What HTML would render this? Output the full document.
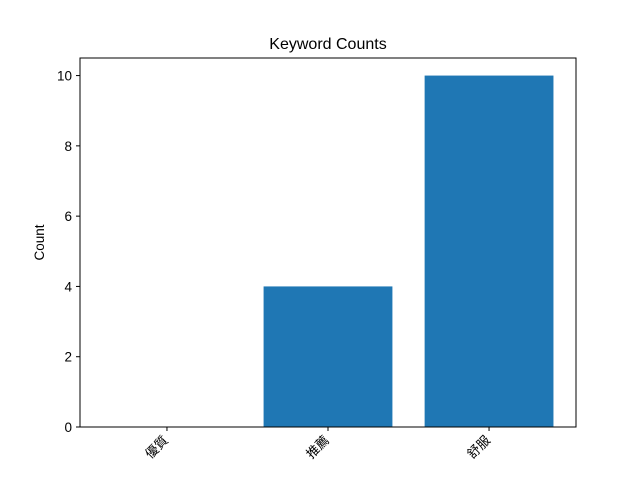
<!DOCTYPE html>
<html><head><meta charset="utf-8"><style>
body{margin:0;background:#fff}
svg{display:block;font-family:"Liberation Sans","Noto Sans CJK TC",sans-serif}
</style></head><body>
<svg id="chart" width="640" height="480">
<rect width="640" height="480" fill="#fff"/>
<text x="328" y="49" text-anchor="middle" font-size="16" fill="#000">Keyword Counts</text>
<text transform="translate(44,242.5) rotate(-90)" text-anchor="middle" font-size="13.5" fill="#000">Count</text>
<g id="bars"></g><g id="yticks"></g><g id="xticks"></g>
<rect x="80" y="58" width="496" height="369" fill="none" stroke="#000" stroke-width="1"/>
</svg>
<script>
const categories=["優質","推薦","舒服"];
const values=[0,4,10];
const yTicks=[0,2,4,6,8,10];
const NS="http://www.w3.org/2000/svg";
const L=80,R=576,T=58,B=427,ymax=10.5;
const n=categories.length;
const xmin=-0.4-0.05*(n-0.2), xmax=n-0.6+0.05*(n-0.2);
const xs=i=>L+(i-xmin)/(xmax-xmin)*(R-L);
const ys=v=>B-v/ymax*(B-T);
const bw=0.8/(xmax-xmin)*(R-L);
function mk(t,a,p){const e=document.createElementNS(NS,t);for(const k in a)e.setAttribute(k,a[k]);p.appendChild(e);return e;}
const bars=document.getElementById('bars'),yt=document.getElementById('yticks'),xt=document.getElementById('xticks');
values.forEach((v,i)=>{
 const r=mk('rect',{x:xs(i)-bw/2,y:ys(v),width:bw,height:B-ys(v),fill:'#1f77b4'},bars);
 
 
});
yTicks.forEach(t=>{
 const y=ys(t);
 const l=mk('line',{x1:L-4,x2:L,y1:y,y2:y,stroke:'#000'},yt);
 
 
 const tx=mk('text',{x:L-8,y:y+5,'text-anchor':'end','font-size':'13.5'},yt);
 tx.textContent=t;
 
 
});
categories.forEach((c,i)=>{
 const x=xs(i);
 const l=mk('line',{x1:x,x2:x,y1:B,y2:B+4,stroke:'#000'},xt);
 
 
 const tx=mk('text',{'text-anchor':'end','font-size':'13',transform:`translate(${x+2},${B+14}) rotate(-45)`},xt);
 tx.textContent=c;
 
 
});
</script>
</body></html>
